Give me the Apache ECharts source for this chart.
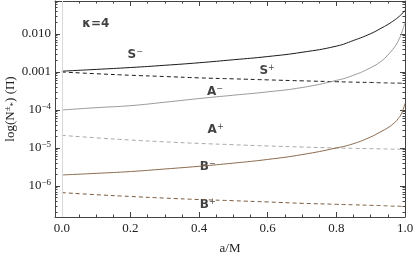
<!DOCTYPE html>
<html><head><meta charset="utf-8">
<script src="https://cdn.jsdelivr.net/npm/echarts@6/dist/echarts.min.js"></script>
<style>html,body{margin:0;padding:0;background:#fff}#c{width:415px;height:257px}</style>
</head><body><div id="c"></div>
<script>
const aVals = [0, 0.1, 0.2, 0.3, 0.4, 0.5, 0.6, 0.7, 0.8, 0.85, 0.9, 0.93, 0.95, 0.97, 0.98, 0.99, 1.0];
const sMinus = [1.05e-3, 1.17e-3, 1.31e-3, 1.5e-3, 1.75e-3, 2.1e-3, 2.55e-3, 3.3e-3, 4.79e-3, 6.76e-3, 1.02e-2, 1.41e-2, 1.78e-2, 2.34e-2, 2.75e-2, 3.31e-2, 4.17e-2];
const sPlus = [1.0e-3, 9.0e-4, 8.2e-4, 7.6e-4, 7.0e-4, 6.6e-4, 6.2e-4, 5.85e-4, 5.55e-4, 5.4e-4, 5.3e-4, 5.2e-4, 5.15e-4, 5.1e-4, 5.1e-4, 5.05e-4, 5.0e-4];
const aMinus = [1.0e-4, 1.15e-4, 1.3e-4, 1.6e-4, 2.0e-4, 2.45e-4, 3.0e-4, 3.9e-4, 6.0e-4, 8.2e-4, 1.3e-3, 1.9e-3, 2.8e-3, 4.6e-3, 6.5e-3, 1.05e-2, 2.0e-2];
const aPlus = [2.15e-5, 1.85e-5, 1.62e-5, 1.45e-5, 1.32e-5, 1.22e-5, 1.13e-5, 1.06e-5, 1.0e-5, 9.8e-6, 9.6e-6, 9.5e-6, 9.4e-6, 9.3e-6, 9.3e-6, 9.2e-6, 9.2e-6];
const bMinus = [1.95e-6, 2.15e-6, 2.4e-6, 2.8e-6, 3.3e-6, 4.0e-6, 5.0e-6, 6.7e-6, 1.0e-5, 1.3e-5, 1.95e-5, 2.7e-5, 3.4e-5, 4.68e-5, 5.9e-5, 8.1e-5, 1.5e-4];
const bPlus = [6.7e-7, 5.9e-7, 5.3e-7, 4.8e-7, 4.4e-7, 4.1e-7, 3.8e-7, 3.5e-7, 3.3e-7, 3.2e-7, 3.1e-7, 3.05e-7, 3.0e-7, 2.95e-7, 2.95e-7, 2.9e-7, 2.9e-7];

const xTickLabels = [0, 0.2, 0.4, 0.6, 0.8, 1.0];
const xMinorTicks = [0.05, 0.1, 0.15, 0.25, 0.3, 0.35, 0.45, 0.5, 0.55, 0.65, 0.7, 0.75, 0.85, 0.9, 0.95];
const yTickDecades = [-6, -5, -4, -3, -2];

// annotation labels: [text, a, value]
const annoNames = ['κ=4', 'S−', 'S+', 'A−', 'A+', 'B−', 'B+'];
const annoA = [0.099, 0.214, 0.598, 0.446, 0.448, 0.425, 0.425];
const annoV = [0.0183, 2.8e-3, 1.06e-3, 2.98e-4, 2.98e-5, 3.16e-6, 3.16e-7];

const Y_MIN = -6.816, Y_MAX = -1.132, X_MIN = -0.02, X_MAX = 1.0;

const yMinor = [];
for (let n = -7; n <= -1; n++) for (let k = 2; k <= 9; k++) {
  const v = Math.log10(k) + n;
  if (v > Y_MIN && v < Y_MAX) yMinor.push(v);
}

function toPts(vals) { return aVals.map((a, i) => [a, Math.log10(vals[i])]); }

const axisCol = '#444';
function mkX(pos, major, labels) {
  return {
    type: 'value', position: pos, min: X_MIN, max: X_MAX,
    axisLine: { show: major, onZero: false, lineStyle: { color: axisCol, width: 1 } },
    axisTick: { show: true, inside: true, length: major ? 5 : 2.5, lineStyle: { color: axisCol },
      customValues: major ? xTickLabels : xMinorTicks },
    axisLabel: { show: labels, customValues: xTickLabels, margin: 5,
      fontFamily: 'Liberation Serif', fontSize: 13, color: '#222',
      formatter: v => v.toFixed(1) },
    splitLine: { show: false },
    name: labels ? 'a/M' : '', nameLocation: 'middle', nameGap: 25, nameMoveOverlap: false,
    nameTextStyle: { fontFamily: 'Liberation Serif', fontSize: 13, color: '#222' }
  };
}
function fmtY(v) {
  const n = Math.round(v);
  if (n === -2) return '0.010';
  if (n === -3) return '0.001';
  return '{b|10}{s|−' + (-n) + '}';
}
function mkY(pos, major, labels) {
  return {
    type: 'value', position: pos, min: Y_MIN, max: Y_MAX,
    axisLine: { show: major, onZero: false, lineStyle: { color: axisCol, width: 1 } },
    axisTick: { show: true, inside: true, length: major ? 5 : 2.5, lineStyle: { color: axisCol },
      customValues: major ? yTickDecades : yMinor },
    axisLabel: { show: labels, customValues: yTickDecades, margin: 4,
      fontFamily: 'Liberation Serif', fontSize: 13, color: '#222', formatter: fmtY,
      rich: { b: { fontFamily: 'Liberation Serif', fontSize: 13, color: '#222' },
              s: { fontFamily: 'Liberation Serif', fontSize: 9, color: '#222', padding: [0, 0, 7, 0] } } },
    splitLine: { show: false },
    name: labels ? '{a|log(N}{p|±}{q|*}{a|) (Π)}' : '', nameLocation: 'middle', nameGap: 44, nameRotate: 90,
    nameMoveOverlap: false,
    nameTextStyle: { fontFamily: 'Liberation Serif', fontSize: 13, color: '#222', align: 'center', verticalAlign: 'middle',
      rich: { a: { fontFamily: 'Liberation Serif', fontSize: 13, color: '#222' },
              p: { fontFamily: 'Liberation Serif', fontSize: 9, color: '#222', padding: [0, 0, 7, 0] },
              q: { fontFamily: 'Liberation Serif', fontSize: 9, color: '#222', padding: [5, 0, 0, 0] } } }
  };
}

function lineSeries(name, vals, color, dashed) {
  return {
    name, type: 'line', data: toPts(vals), xAxisIndex: 0, yAxisIndex: 0,
    showSymbol: false, symbol: 'none', smooth: 0.5, silent: true,
    lineStyle: { color, width: 1, type: dashed ? [4, 3] : 'solid' }
  };
}

const annoData = annoNames.map((t, i) => ({ value: [annoA[i], Math.log10(annoV[i])], name: t }));

const option = {
  animation: false,
  backgroundColor: '#fff',
  grid: { left: 55, right: 10, top: 1, bottom: 40, containLabel: false, outerBoundsMode: 'none' },
  xAxis: [mkX('bottom', true, true), mkX('bottom', false, false), mkX('top', true, false), mkX('top', false, false)],
  yAxis: [mkY('left', true, true), mkY('left', false, false), mkY('right', true, false), mkY('right', false, false)],
  series: [
    {
      type: 'line', data: [], xAxisIndex: 0, yAxisIndex: 0, silent: true,
      markLine: { silent: true, symbol: 'none', label: { show: false },
        lineStyle: { color: '#d8d8d8', width: 1, type: 'solid' }, data: [{ xAxis: 0 }] }
    },
    lineSeries('S-', sMinus, '#1a1a1a', false),
    lineSeries('S+', sPlus, '#1a1a1a', true),
    lineSeries('A-', aMinus, '#9a9a9a', false),
    lineSeries('A+', aPlus, '#a8a8a8', true),
    lineSeries('B-', bMinus, '#8c6c50', false),
    lineSeries('B+', bPlus, '#7a5a3e', true),
    {
      type: 'scatter', data: annoData, xAxisIndex: 0, yAxisIndex: 0, symbolSize: 0, silent: true,
      label: {
        show: true, position: 'inside',
        formatter: p => {
          const t = p.name;
          if (t.length === 2) return '{m|' + t[0] + '}{s|' + (t[1] === '−' ? '−' : '+') + '}';
          return '{m|' + t + '}';
        },
        rich: {
          m: { fontFamily: 'DejaVu Sans', fontWeight: 'bold', fontSize: 12, color: '#111' },
          s: { fontFamily: 'DejaVu Sans', fontWeight: 'normal', fontSize: 8, color: '#111', padding: [0, 0, 7, 0] }
        }
      }
    }
  ]
};
const chart = echarts.init(document.getElementById('c'), null, { renderer: 'canvas' });
chart.setOption(option);
</script></body></html>
